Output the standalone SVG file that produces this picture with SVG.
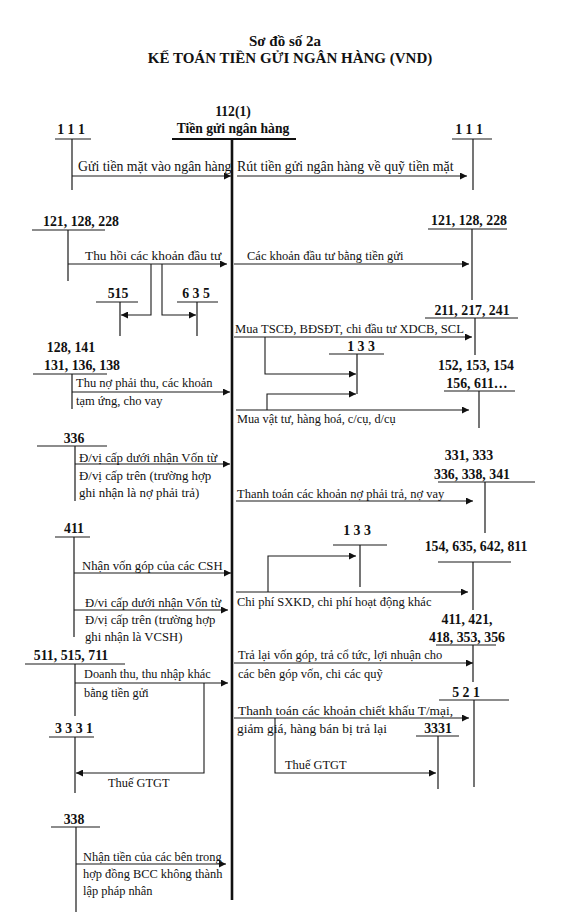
<svg xmlns="http://www.w3.org/2000/svg" width="565" height="920" viewBox="0 0 565 920">
<style>
text{font-family:'Liberation Serif','DejaVu Serif',serif;fill:#111}
.t{font-size:15px;font-weight:bold;text-anchor:middle}
.h{font-size:13.6px;font-weight:bold;text-anchor:middle}
.b{font-size:13.8px;font-weight:bold;text-anchor:middle}
.ln{stroke:#1a1a1a;stroke-width:1.2;fill:none}
.main{stroke:#111;stroke-width:2.6;fill:none}
.hd{stroke:#111;stroke-width:2;fill:none}
.c{stroke:#1a1a1a;stroke-width:1.1;fill:none;marker-end:url(#ah)}
</style>
<defs>
<marker id="ah" viewBox="0 0 10 10" refX="10" refY="5" markerWidth="8" markerHeight="7" markerUnits="userSpaceOnUse" orient="auto">
<path d="M0,0 L10,5 L0,10 z" fill="#111"/>
</marker>
</defs>
<rect width="565" height="920" fill="#fff"/>
<g font-family="Liberation Serif, DejaVu Serif, serif">
<g id="title">
<text class="t" x="285" y="46">Sơ đồ số 2a</text>
<text class="t" x="290" y="63">KẾ TOÁN TIỀN GỬI NGÂN HÀNG (VND)</text>
</g>
<g id="n112">
<text class="h" x="233" y="116">112(1)</text>
<text class="h" x="233" y="133">Tiền gửi ngân hàng</text>
<line class="hd" x1="172" y1="139" x2="296" y2="139"/>
<line class="main" x1="232" y1="139" x2="232" y2="900"/>
</g>
<g id="n111L"><text class="b" x="71" y="134">1 1 1</text><line class="ln" x1="55" y1="139" x2="91" y2="139"/><line class="ln" x1="72" y1="139" x2="72" y2="190"/></g>
<g id="n111R"><text class="b" x="469" y="134">1 1 1</text><line class="ln" x1="452" y1="139" x2="492" y2="139"/><line class="ln" x1="473" y1="139" x2="473" y2="190"/></g>
<g id="n121L"><text class="b" x="81" y="226">121, 128, 228</text><line class="ln" x1="32" y1="230" x2="105" y2="230"/><line class="ln" x1="68" y1="230" x2="68" y2="281"/></g>
<g id="n515"><text class="b" x="118" y="298">515</text><line class="ln" x1="96" y1="302" x2="138" y2="302"/><line class="ln" x1="120" y1="302" x2="120" y2="336"/></g>
<g id="n635"><text class="b" x="196" y="298">6 3 5</text><line class="ln" x1="177" y1="302" x2="218" y2="302"/><line class="ln" x1="197" y1="302" x2="197" y2="336"/></g>
<g id="n121R"><text class="b" x="469" y="225">121, 128, 228</text><line class="ln" x1="428" y1="229" x2="507" y2="229"/><line class="ln" x1="472" y1="229" x2="472" y2="300"/></g>
<g id="n211"><text class="b" x="472" y="315">211, 217, 241</text><line class="ln" x1="425" y1="318" x2="518" y2="318"/><line class="ln" x1="475" y1="318" x2="475" y2="355"/></g>
<g id="n133a"><text class="b" x="361" y="351">1 3 3</text><line class="ln" x1="329" y1="354" x2="384" y2="354"/><line class="ln" x1="357" y1="354" x2="357" y2="394"/></g>
<g id="n131"><text class="b" x="71" y="352">128, 141</text><text class="b" x="82" y="370">131, 136, 138</text><line class="ln" x1="33" y1="374" x2="107" y2="374"/><line class="ln" x1="72" y1="374" x2="72" y2="409"/></g>
<g id="n152"><text class="b" x="476" y="370">152, 153, 154</text><text class="b" x="477" y="388">156, 611…</text><line class="ln" x1="444" y1="391" x2="515" y2="391"/><line class="ln" x1="479" y1="391" x2="479" y2="428"/></g>
<g id="n336"><text class="b" x="74" y="443">336</text><line class="ln" x1="37" y1="446" x2="107" y2="446"/><line class="ln" x1="75" y1="446" x2="75" y2="501"/></g>
<g id="n331"><text class="b" x="469" y="460">331, 333</text><text class="b" x="472" y="479">336, 338, 341</text><line class="ln" x1="438" y1="482" x2="535" y2="482"/><line class="ln" x1="485" y1="482" x2="485" y2="533"/></g>
<g id="n411"><text class="b" x="74" y="533">411</text><line class="ln" x1="55" y1="537" x2="90" y2="537"/><line class="ln" x1="74" y1="537" x2="74" y2="637"/></g>
<g id="n133b"><text class="b" x="357" y="535">1 3 3</text><line class="ln" x1="333" y1="545" x2="387" y2="545"/><line class="ln" x1="360" y1="545" x2="360" y2="587"/></g>
<g id="n154"><text class="b" x="476" y="551">154, 635, 642, 811</text><line class="ln" x1="438" y1="562" x2="511" y2="562"/><line class="ln" x1="473" y1="562" x2="473" y2="610"/></g>
<g id="n411R"><text class="b" x="467" y="624">411, 421,</text><text class="b" x="467" y="642">418, 353, 356</text><line class="ln" x1="436" y1="645" x2="496" y2="645"/><line class="ln" x1="473" y1="645" x2="473" y2="682"/></g>
<g id="n511"><text class="b" x="71" y="660">511, 515, 711</text><line class="ln" x1="25" y1="664" x2="125" y2="664"/><line class="ln" x1="75" y1="664" x2="75" y2="716"/></g>
<g id="n521"><text class="b" x="466" y="697">5 2 1</text><line class="ln" x1="439" y1="700" x2="509" y2="700"/><line class="ln" x1="474" y1="700" x2="474" y2="787"/></g>
<g id="n3331L"><text class="b" x="74" y="733">3 3 3 1</text><line class="ln" x1="49" y1="737" x2="94" y2="737"/><line class="ln" x1="75" y1="737" x2="75" y2="793"/></g>
<g id="n3331R"><text class="b" x="438" y="733">3331</text><line class="ln" x1="416" y1="736" x2="459" y2="736"/><line class="ln" x1="438" y1="736" x2="438" y2="789"/></g>
<g id="n338"><text class="b" x="74" y="824">338</text><line class="ln" x1="51" y1="827" x2="100" y2="827"/><line class="ln" x1="76" y1="827" x2="76" y2="912"/></g>
<g id="connectors">
<path class="c" d="M72,176 H231"/>
<path class="c" d="M237,176 H467"/>
<path class="c" d="M68,264 H227"/>
<path class="c" d="M151,264 V315 H121"/>
<path class="c" d="M162,264 V315 H196"/>
<path class="c" d="M234,264 H469"/>
<path class="c" d="M234,337 H472"/>
<path class="c" d="M265,337 V374 H356"/>
<path class="c" d="M72,392 H230"/>
<path class="c" d="M236,410 H469"/>
<path class="c" d="M267,410 V394 H356"/>
<path class="c" d="M75,464 H230"/>
<path class="c" d="M236,501 H473"/>
<path class="c" d="M74,573 H231"/>
<path class="c" d="M74,610 H228"/>
<path class="c" d="M236,592 H468"/>
<path class="c" d="M268,592 V556 H356"/>
<path class="c" d="M234,663 H473"/>
<path class="c" d="M75,683 H228"/>
<path class="c" d="M204,683 V773 H76"/>
<path class="c" d="M234,718 H469"/>
<path class="c" d="M275,718 V773 H436"/>
<path class="c" d="M76,864 H226"/>
</g>
<g id="connector-labels">
<text font-size="13.8" x="78" y="171">Gửi tiền mặt vào ngân hàng</text>
<text font-size="13.9" x="237" y="171">Rút tiền gửi ngân hàng về quỹ tiền mặt</text>
<text font-size="13.4" x="85" y="260">Thu hồi các khoản đầu tư</text>
<text font-size="12.5" x="247" y="260">Các khoản đầu tư bằng tiền gửi</text>
<text font-size="12.6" x="235" y="333">Mua TSCĐ, BĐSĐT, chi đầu tư XDCB, SCL</text>
<text font-size="12.5" x="76" y="387">Thu nợ phải thu, các khoản</text>
<text font-size="12.5" x="76" y="405">tạm ứng, cho vay</text>
<text font-size="12.3" x="237" y="423">Mua vật tư, hàng hoá, c/cụ, d/cụ</text>
<text font-size="12.9" x="79" y="462">Đ/vị cấp dưới nhận Vốn từ</text>
<text font-size="12.9" x="79" y="480">Đ/vị cấp trên (trường hợp</text>
<text font-size="12.9" x="79" y="497">ghi nhận là nợ phải trả)</text>
<text font-size="12.5" x="237" y="498">Thanh toán các khoản nợ phải trả, nợ vay</text>
<text font-size="12.7" x="82" y="570">Nhận vốn góp của các CSH</text>
<text font-size="12.7" x="85" y="607">Đ/vi cấp dưới nhận Vốn từ</text>
<text font-size="12.7" x="85" y="624">Đ/vị cấp trên (trường hợp</text>
<text font-size="12.7" x="85" y="641">ghi nhận là VCSH)</text>
<text font-size="12.5" x="237" y="606">Chi phí SXKD, chi phí hoạt động khác</text>
<text font-size="12.5" x="238" y="659">Trả lại vốn góp, trả cổ tức, lợi nhuận cho</text>
<text font-size="12.5" x="238" y="678">các bên góp vốn, chi các quỹ</text>
<text font-size="12.3" x="84" y="678">Doanh thu, thu nhập khác</text>
<text font-size="12.3" x="84" y="697">bằng tiền gửi</text>
<text font-size="12.4" x="108" y="787">Thuế GTGT</text>
<text font-size="13.4" x="238" y="715">Thanh toán các khoản chiết khấu T/mại,</text>
<text font-size="13.4" x="237" y="733">giảm giá, hàng bán bị trả lại</text>
<text font-size="12.4" x="285" y="769">Thuế GTGT</text>
<text font-size="12.4" x="83" y="861">Nhận tiền của các bên trong</text>
<text font-size="12.4" x="83" y="878">hợp đồng BCC không thành</text>
<text font-size="12.4" x="83" y="895">lập pháp nhân</text>
</g>
</g>
</svg>
